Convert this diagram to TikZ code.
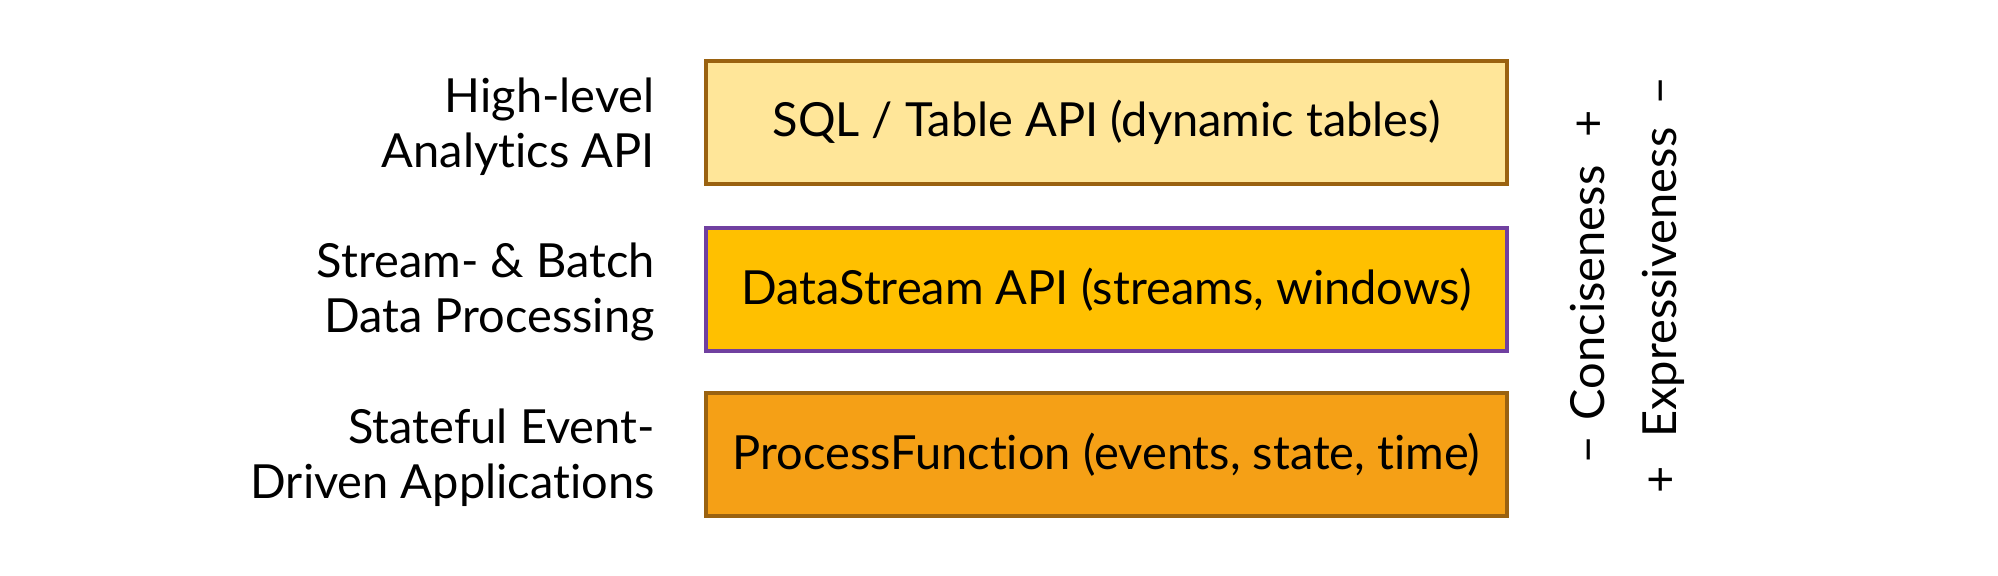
\documentclass[tikz,border=0pt]{standalone}
\usepackage{fontspec}
\setmainfont{Lato}[Ligatures={NoCommon}]
\definecolor{topfill}{HTML}{FFE699}
\definecolor{midfill}{HTML}{FFC000}
\definecolor{botfill}{HTML}{F5A016}
\definecolor{brownline}{HTML}{9A6210}
\definecolor{purpleline}{HTML}{7040A0}
\begin{document}
\begin{tikzpicture}[x=0.5pt,y=-0.5pt,
  layer/.style={rectangle, inner sep=0pt, line width=2.2pt, minimum width=400.5pt, minimum height=61.5pt, font=\fontsize{23.5}{27}\selectfont},
  sidelabel/.style={anchor=east, align=right, inner sep=0pt, font=\fontsize{23.5}{27.5}\selectfont},
  axislabel/.style={rotate=90, inner sep=0pt, font=\fontsize{23.5}{27}\selectfont}]
\useasboundingbox (0,0) rectangle (1998,576);
\fill[white] (0,0) rectangle (1998,576);
\node[layer, draw=brownline, fill=topfill] (sql) at (1106.5,122.5) {SQL / Table API (dynamic tables)};
\node[layer, draw=purpleline, fill=midfill] (ds) at (1106.5,289.5) {DataStream API (streams, windows)};
\node[layer, draw=brownline, fill=botfill] (pf) at (1106.5,454.5) {ProcessFunction (events, state, time)};
\node[sidelabel] (l1) at (655,127) {High-level\\Analytics API};
\node[sidelabel] (l2) at (655,292) {Stream- \& Batch\\Data Processing};
\node[sidelabel] (l3) at (655,458) {Stateful Event-\\Driven Applications};
\node[axislabel] (conc) at (1588,287) {−\hspace{0.35em}Conciseness\hspace{0.6em}+};
\node[axislabel] (expr) at (1663,285) {+\hspace{0.6em}Expressiveness\hspace{0.5em}−};
\end{tikzpicture}
\end{document}
